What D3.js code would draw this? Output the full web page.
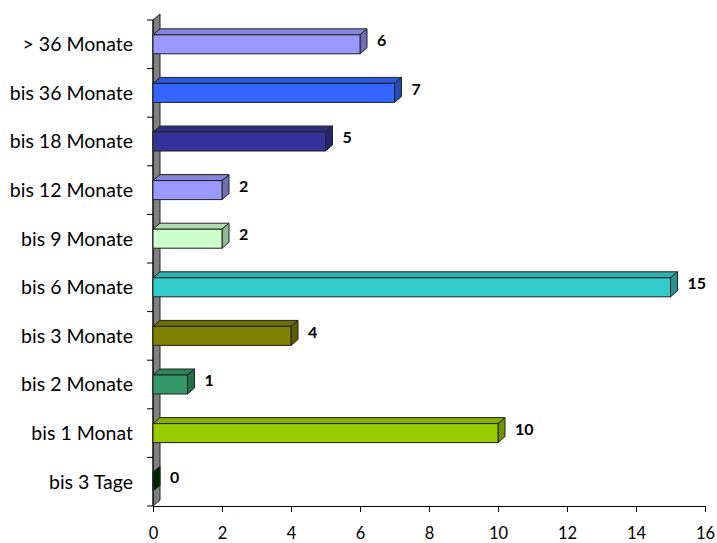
<!DOCTYPE html>
<html>
<head>
<meta charset="utf-8">
<script src="https://cdn.jsdelivr.net/npm/d3@7"></script>
<style>
  body { margin: 0; background: #fff; }
  text { font-family: Lato, "Open Sans", sans-serif; }
</style>
</head>
<body>
<div id="chart"></div>
<script>
// categories top -> bottom
const categories = [
  "> 36 Monate", "bis 36 Monate", "bis 18 Monate", "bis 12 Monate", "bis 9 Monate",
  "bis 6 Monate", "bis 3 Monate", "bis 2 Monate", "bis 1 Monat", "bis 3 Tage"
];
const values = [6, 7, 5, 2, 2, 15, 4, 1, 10, 0];
const barColors = [
  "#9999ff", "#3366ff", "#333399", "#9999ff", "#ccffcc",
  "#33cccc", "#808000", "#339966", "#99cc00", "#003300"
];
const xTicks = [0, 2, 4, 6, 8, 10, 12, 14, 16];

const width = 717, height = 543;
const margin = { top: 20, right: 12, bottom: 37, left: 153 };
const depthX = 7, depthY = 6;
const barH = 19;

const svg = d3.select("#chart").append("svg")
  .attr("width", width).attr("height", height);

const x = d3.scaleLinear().domain([0, 16]).range([margin.left, 705]);
const y = d3.scaleBand().domain(categories).range([margin.top, height - margin.bottom]);

// side wall
const wallTop = y.range()[0], wallBot = y.range()[1];
svg.append("path")
  .attr("d", `M${x(0)},${wallBot} L${x(0)},${wallTop} L${x(0) + depthX},${wallTop - depthY} L${x(0) + depthX},${wallBot - depthY} Z`)
  .attr("fill", "#808080")
  .attr("stroke", "#222")
  .attr("stroke-width", 1);

// left axis (ticks at band edges)
const yEdges = categories.map(c => y(c)).concat([wallBot]);
const ax = svg.append("g");
ax.selectAll("line.tick").data(yEdges).join("line")
  .attr("x1", x(0) - 6).attr("x2", x(0))
  .attr("y1", d => d).attr("y2", d => d)
  .attr("stroke", "#000");
ax.append("line")
  .attr("x1", x(0)).attr("x2", x(0))
  .attr("y1", wallTop).attr("y2", wallBot)
  .attr("stroke", "#000");
ax.selectAll("text").data(categories).join("text")
  .attr("x", x(0) - 20)
  .attr("y", d => y(d) + y.bandwidth() / 2)
  .attr("dy", "0.35em")
  .attr("text-anchor", "end")
  .attr("font-size", 19.5)
  .attr("fill", "#000")
  .text(d => d);

// bottom axis
svg.append("g")
  .attr("transform", `translate(0,${wallBot})`)
  .call(d3.axisBottom(x).tickValues(xTicks).tickSize(6).tickPadding(15))
  .call(g => g.select(".domain").attr("stroke", "#000"))
  .call(g => g.selectAll("text").attr("font-size", 16.5).attr("fill", "#000")
    .style("font-family", "Lato, 'Open Sans', sans-serif"));

// bars
const rows = categories.map((c, i) => ({ cat: c, value: values[i], color: barColors[i] }));
const bars = svg.append("g").selectAll("g").data(rows).join("g");

bars.each(function (d) {
  const g = d3.select(this);
  const x0 = x(0), x1 = x(d.value);
  const y0 = y(d.cat) + (y.bandwidth() - barH) / 2, y1 = y0 + barH;
  const c = d3.color(d.color);
  // top face
  if (x1 > x0) {
    g.append("path")
      .attr("d", `M${x0},${y0} L${x0 + depthX},${y0 - depthY} L${x1 + depthX},${y0 - depthY} L${x1},${y0} Z`)
      .attr("fill", c.darker(0.4))
      .attr("stroke", "#222").attr("stroke-width", 1);
  }
  // right face
  g.append("path")
    .attr("d", `M${x1},${y0} L${x1 + depthX},${y0 - depthY} L${x1 + depthX},${y1 - depthY} L${x1},${y1} Z`)
    .attr("fill", c.darker(0.9))
    .attr("stroke", "#222").attr("stroke-width", 1);
  // front face
  if (x1 > x0) {
    g.append("rect")
      .attr("x", x0).attr("y", y0)
      .attr("width", x1 - x0).attr("height", barH)
      .attr("fill", d.color)
      .attr("stroke", "#222").attr("stroke-width", 1);
  }
  // value label
  g.append("text")
    .attr("x", x1 + depthX + 10)
    .attr("y", (y0 + y1) / 2 - depthY / 2 - 1)
    .attr("dy", "0.35em")
    .attr("font-size", 16)
    .attr("font-weight", "bold")
    .attr("fill", "#000")
    .text(d.value);
});
</script>
</body>
</html>
